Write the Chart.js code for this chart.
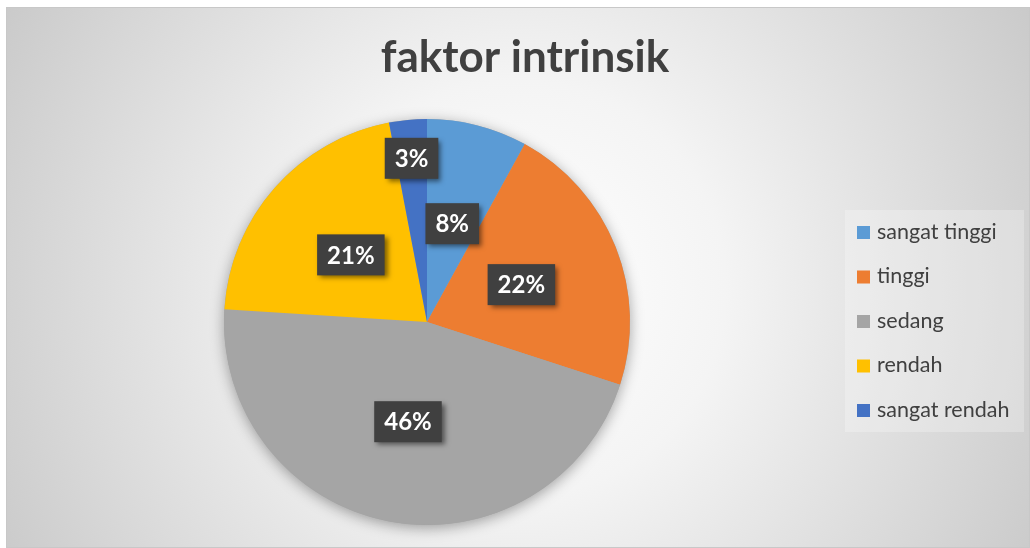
<!DOCTYPE html>
<html>
<head>
<meta charset="utf-8">
<script src="https://cdn.jsdelivr.net/npm/chart.js@4/dist/chart.umd.min.js"></script>
<style>
  html, body { margin: 0; padding: 0; background: #ffffff; }
  #wrap { position: absolute; left: 6px; top: 7px; width: 1024px; height: 541px; }
</style>
</head>
<body>
<div id="wrap"><canvas id="pieChart" width="1024" height="541"></canvas></div>
<script>
// chart data
const chartTitle = "faktor intrinsik";
const categories = ["sangat tinggi", "tinggi", "sedang", "rendah", "sangat rendah"];
const percentValues = [8, 22, 46, 21, 3];
const sliceColors = ["#5B9BD5", "#ED7D31", "#A5A5A5", "#FFC000", "#4472C4"];

const FONT = "Lato, 'Open Sans', sans-serif";

// background, title and legend drawn around the pie
const decorPlugin = {
  id: "decor",
  beforeDraw(chart) {
    const ctx = chart.ctx;
    const w = chart.width;
    const h = chart.height;
    ctx.save();
    const grad = ctx.createRadialGradient(w * 0.5, h * 0.52, 0, w * 0.5, h * 0.52, w * 0.58);
    grad.addColorStop(0, "#ffffff");
    grad.addColorStop(0.35, "#f4f4f4");
    grad.addColorStop(1, "#c9c9c9");
    ctx.fillStyle = grad;
    ctx.fillRect(0, 0, w, h);
    ctx.strokeStyle = "#c8c8c8";
    ctx.lineWidth = 1;
    ctx.strokeRect(0.5, 0.5, w - 1, h - 1);

    // title
    ctx.fillStyle = "#404040";
    ctx.font = "bold 44px " + FONT;
    ctx.textAlign = "center";
    ctx.textBaseline = "alphabetic";
    ctx.fillText(chartTitle, 519, 65);

    // legend
    ctx.fillStyle = "rgba(255,255,255,0.25)";
    ctx.fillRect(839, 203, 179, 222);
    ctx.font = "21.5px " + FONT;
    ctx.textAlign = "left";
    ctx.textBaseline = "middle";
    categories.forEach((name, i) => {
      const y = 225 + i * 44.5;
      ctx.fillStyle = sliceColors[i];
      ctx.fillRect(851, y - 6, 13, 13);
      ctx.fillStyle = "#404040";
      ctx.fillText(name, 871, y);
    });
    ctx.restore();
  },
  beforeDatasetsDraw(chart) {
    // soft shadow under the pie
    const arc = chart.getDatasetMeta(0).data[0];
    const ctx = chart.ctx;
    ctx.save();
    ctx.shadowColor = "rgba(0,0,0,0.35)";
    ctx.shadowBlur = 14;
    ctx.shadowOffsetY = 3;
    ctx.fillStyle = "#a5a5a5";
    ctx.beginPath();
    ctx.arc(arc.x, arc.y, arc.outerRadius, 0, Math.PI * 2);
    ctx.fill();
    ctx.restore();
  },
  afterDatasetsDraw(chart) {
    const ctx = chart.ctx;
    const meta = chart.getDatasetMeta(0);
    ctx.save();
    ctx.font = "bold 24px " + FONT;
    ctx.textAlign = "center";
    ctx.textBaseline = "middle";
    meta.data.forEach((el, i) => {
      const mid = (el.startAngle + el.endAngle) / 2;
      // small slices get pushed out toward the edge
      const rf = percentValues[i] < 5 ? 0.81 : 0.5;
      const cx = el.x + Math.cos(mid) * el.outerRadius * rf;
      const cy = el.y + Math.sin(mid) * el.outerRadius * rf;
      const text = percentValues[i] + "%";
      const bw = ctx.measureText(text).width + 20;
      const bh = 41;
      ctx.save();
      ctx.shadowColor = "rgba(0,0,0,0.5)";
      ctx.shadowBlur = 5;
      ctx.shadowOffsetX = 3;
      ctx.shadowOffsetY = 3;
      ctx.fillStyle = "#404040";
      ctx.fillRect(cx - bw / 2, cy - bh / 2, bw, bh);
      ctx.restore();
      ctx.fillStyle = "#ffffff";
      ctx.fillText(text, cx, cy + 1);
    });
    ctx.restore();
  }
};

const ctx = document.getElementById("pieChart").getContext("2d");
const chartInstance = new Chart(ctx, {
  type: "pie",
  data: {
    labels: categories,
    datasets: [{
      data: percentValues,
      backgroundColor: sliceColors,
      borderWidth: 0
    }]
  },
  options: {
    responsive: false,
    animation: false,
    layout: {
      padding: { top: 112, left: 218, right: 400, bottom: 23 }
    },
    plugins: {
      legend: { display: false },
      title: { display: false },
      tooltip: { enabled: false }
    }
  },
  plugins: [decorPlugin]
});
</script>
</body>
</html>
